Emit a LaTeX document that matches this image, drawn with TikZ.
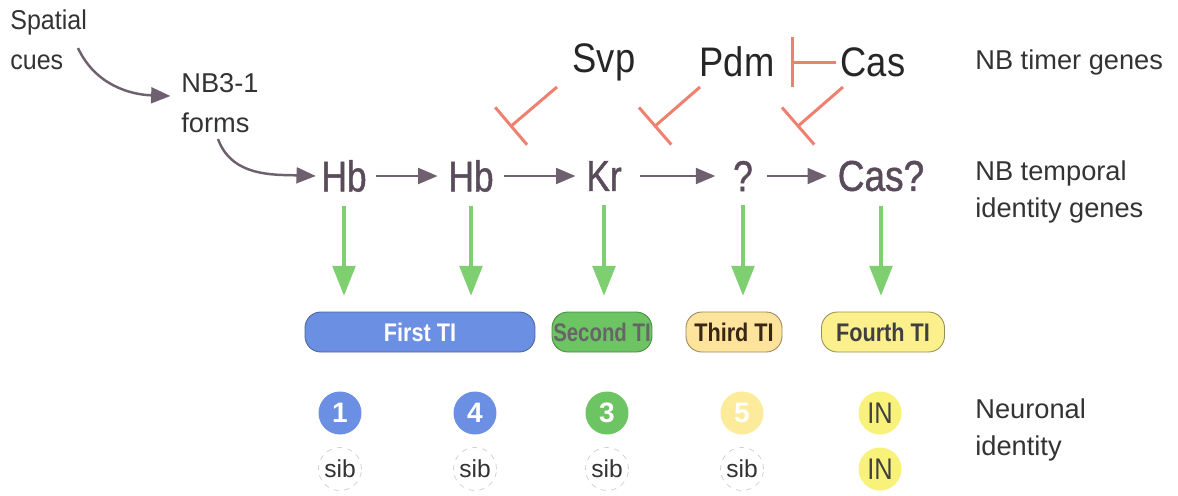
\documentclass[tikz,border=0pt]{standalone}
\usepackage{fontspec}
\setmainfont{Liberation Sans}
\newfontfamily\genefont{Liberation Sans}[FakeBold=1.2]
\usetikzlibrary{arrows.meta}
\definecolor{purp}{HTML}{6F6070}
\definecolor{genec}{HTML}{5A4B5A}
\definecolor{salmon}{HTML}{EE8070}
\definecolor{grn}{HTML}{7DCF70}
\definecolor{tiblue}{HTML}{6B8FE3}
\definecolor{tigreen}{HTML}{6CC463}
\definecolor{tiorange}{HTML}{FDE39C}
\definecolor{tiyellow}{HTML}{FBF08C}
\definecolor{paleyel}{HTML}{FBEB9A}
\definecolor{inyel}{HTML}{F8F27A}
\definecolor{labgray}{HTML}{333333}
\begin{document}
\begin{tikzpicture}[x=0.02cm,y=-0.02cm,
  lbl/.style={inner sep=0pt, font=\fontsize{15.5}{23}\selectfont, align=left, text=labgray},
  side/.style={inner sep=0pt, font=\fontsize{15.5}{21.5}\selectfont, align=left, text=labgray},
  gene/.style={inner sep=0pt, font=\genefont\fontsize{24.5}{26}\selectfont, text=genec},
  timer/.style={inner sep=0pt, font=\fontsize{23.5}{25}\selectfont, text=black!85},
  purparr/.style={draw=purp, line width=1.4pt, -{Triangle[length=11pt,width=9pt]}},
  grnarr/.style={draw=grn, line width=1.8pt, -{Triangle[length=17pt,width=13pt]}},
  inhib/.style={draw=salmon, line width=1.7pt, -{Bar[width=28pt]}},
  tibox/.style={rounded corners=9pt, minimum height=0.8cm, line width=0.5pt, inner sep=0pt, font=\bfseries\fontsize{14.5}{16}\selectfont},
  cell/.style={circle, minimum size=0.86cm, inner sep=0pt, font=\bfseries\fontsize{16}{18}\selectfont},
  sib/.style={cell, draw=black!20, dashed, font=\fontsize{14}{16}\selectfont, text=black!80}
]
\useasboundingbox (0,0) rectangle (1178,495);

% left labels
\node[lbl, anchor=north west] (cues) at (10,9) {\scalebox{0.92}[1]{Spatial}\\\scalebox{0.92}[1]{cues}};
\node[lbl, anchor=north west] (nb) at (181,73) {NB3-1\\forms};
\coordinate (c1s) at (78,48);
\coordinate (c2s) at (218,139);

% gene row
\node[gene] (hb1) at (344,176) {\scalebox{0.82}[1]{Hb}};
\node[gene] (hb2) at (471,176) {\scalebox{0.82}[1]{Hb}};
\node[gene] (kr) at (604,176) {\scalebox{0.82}[1]{Kr}};
\node[gene] (q) at (743,176) {\scalebox{0.82}[1]{?}};
\node[gene] (cas2) at (881,176) {\scalebox{0.86}[1]{Cas?}};

\draw[purparr] (c1s) to[out=-65,in=178] ([xshift=-6pt]nb.west |- 0,96);
\draw[purparr] (c2s) to[out=-70,in=178] ([xshift=-3pt]hb1.west);
\draw[purparr, shorten <=5pt, shorten >=6pt] (hb1.east) -- (hb2.west);
\draw[purparr, shorten <=6pt, shorten >=6pt] (hb2.east) -- (kr.west);
\draw[purparr, shorten <=10pt, shorten >=10pt] (kr.east) -- (q.west);
\draw[purparr, shorten <=8pt, shorten >=6pt] (q.east) -- (cas2.west);

% timer genes
\node[timer] (svp) at (604,62) {\scalebox{0.88}[1]{Svp}};
\node[timer] (pdm) at (737,62) {\scalebox{0.88}[1]{Pdm}};
\node[timer] (cas) at (873,62) {\scalebox{0.88}[1]{Cas}};
\coordinate (t1s) at (557,87); \coordinate (t1e) at (510,127);
\coordinate (t2s) at (700,87); \coordinate (t2e) at (654,127);
\coordinate (t3s) at (843,87); \coordinate (t3e) at (797,127);
\coordinate (pbar) at (791,62);
\draw[inhib] (t1s) -- (t1e);
\draw[inhib] (t2s) -- (t2e);
\draw[inhib] (t3s) -- (t3e);
\draw[inhib] (cas.west) ++(-4,0) coordinate (cw) (cw) -- (pbar);

% TI boxes
\node[tibox, fill=tiblue, draw=tiblue!70!black, minimum width=4.6cm, text=white] (ti1) at (420,332) {\scalebox{0.85}[1]{First TI}};
\node[tibox, fill=tigreen, draw=tigreen!70!black, minimum width=2cm, text=black!60] (ti2) at (602,332) {\scalebox{0.8}[1]{Second TI}};
\node[tibox, fill=tiorange, draw=tiorange!60!black, minimum width=1.92cm, text=black!70!brown] (ti3) at (734,332) {\scalebox{0.85}[1]{Third TI}};
\node[tibox, fill=tiyellow, draw=tiyellow!60!black, minimum width=2.46cm, text=black!75] (ti4) at (883,332) {\scalebox{0.85}[1]{Fourth TI}};

% green arrows
\draw[grnarr, shorten <=8pt, shorten >=9pt] (hb1) -- (hb1 |- ti1.north);
\draw[grnarr, shorten <=8pt, shorten >=9pt] (hb2) -- (hb2 |- ti1.north);
\draw[grnarr, shorten <=8pt, shorten >=9pt] (kr) -- (kr |- ti2.north);
\draw[grnarr, shorten <=8pt, shorten >=9pt] (q) -- (q |- ti3.north);
\draw[grnarr, shorten <=8pt, shorten >=9pt] (cas2) -- (cas2 |- ti4.north);

% neuronal identity
\node[cell, fill=tiblue, text=white] (n1) at (340,413) {1};
\node[cell, fill=tiblue, text=white] (n4) at (475,413) {4};
\node[cell, fill=tigreen, text=white] (n3) at (607,413) {3};
\node[cell, fill=paleyel, text=white] (n5) at (742,413) {5};
\node[cell, fill=inyel, text=black!75, font=\fontsize{17}{18}\selectfont] (in1) at (880,413) {\scalebox{0.85}[1]{IN}};
\node[sib] (s1) at (340,469) {sib};
\node[sib] (s2) at (475,469) {sib};
\node[sib] (s3) at (607,469) {sib};
\node[sib] (s4) at (742,469) {sib};
\node[cell, fill=inyel, text=black!75, font=\fontsize{17}{18}\selectfont] (in2) at (880,469) {\scalebox{0.85}[1]{IN}};

% right labels
\node[side, anchor=west] (timerlbl) at (975,62) {NB timer genes};
\node[side, anchor=north west] (templbl) at (975,160) {NB temporal\\identity genes};
\node[side, anchor=north west] (neurlbl) at (975,398) {Neuronal\\identity};
\end{tikzpicture}
\end{document}
